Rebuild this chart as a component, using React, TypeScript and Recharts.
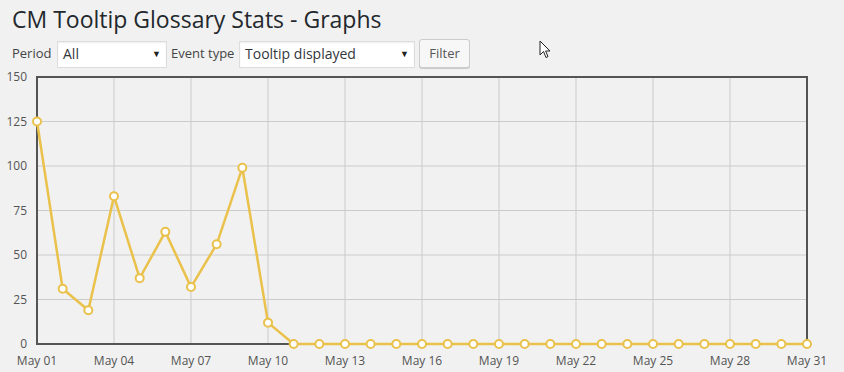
import { LineChart, Line, XAxis, YAxis, CartesianGrid, ReferenceArea } from "recharts";

const days = [
  "May 01", "May 02", "May 03", "May 04", "May 05", "May 06", "May 07", "May 08",
  "May 09", "May 10", "May 11", "May 12", "May 13", "May 14", "May 15", "May 16",
  "May 17", "May 18", "May 19", "May 20", "May 21", "May 22", "May 23", "May 24",
  "May 25", "May 26", "May 27", "May 28", "May 29", "May 30", "May 31",
];

const displayed = [
  125, 31, 19, 83, 37, 63, 32, 56, 99, 12, 0, 0, 0, 0, 0, 0,
  0, 0, 0, 0, 0, 0, 0, 0, 0, 0, 0, 0, 0, 0, 0,
];

const yTicks = [0, 25, 50, 75, 100, 125, 150];

const data = days.map((day, i) => ({ day, count: displayed[i] }));

const font = "'Open Sans', 'Noto Sans', sans-serif";
const gold = "#e9c14b";

const box = {
  position: "absolute" as const,
  background: "#fff",
  border: "1px solid #ddd",
  boxShadow: "inset 0 1px 2px rgba(0,0,0,0.07)",
  fontSize: 14,
  color: "#32373c",
  boxSizing: "border-box" as const,
  lineHeight: "24px",
  paddingLeft: 5,
};

export default function App() {
  return (
    <div
      style={{
        position: "absolute",
        left: 0,
        top: 0,
        width: 844,
        height: 372,
        background: "#f1f1f1",
        fontFamily: font,
        overflow: "hidden",
      }}
    >
      <div style={{ position: "absolute", left: 12, top: 3, fontSize: 23, color: "#23282d" }}>
        CM Tooltip Glossary Stats - Graphs
      </div>

      <div style={{ position: "absolute", left: 12, top: 44, fontSize: 13, color: "#444" }}>Period</div>
      <div style={{ ...box, left: 57, top: 41, width: 110, height: 27 }}>
        All
        <span style={{ position: "absolute", right: 5, top: 0, fontSize: 9, color: "#222" }}>▼</span>
      </div>

      <div style={{ position: "absolute", left: 171, top: 44, fontSize: 13, color: "#444" }}>Event type</div>
      <div style={{ ...box, left: 239, top: 41, width: 176, height: 27 }}>
        Tooltip displayed
        <span style={{ position: "absolute", right: 5, top: 0, fontSize: 9, color: "#222" }}>▼</span>
      </div>

      <div
        style={{
          position: "absolute",
          left: 419,
          top: 39,
          width: 51,
          height: 29,
          boxSizing: "border-box",
          background: "#f7f7f7",
          border: "1px solid #ccc",
          borderRadius: 3,
          boxShadow: "0 1px 0 #ccc",
          fontSize: 13,
          color: "#555",
          textAlign: "center",
          lineHeight: "26px",
        }}
      >
        Filter
      </div>

      {/* mouse pointer seen in the screenshot */}
      <svg style={{ position: "absolute", left: 539, top: 40 }} width={14} height={20}>
        <path d="M1 1 L1 15 L4.5 11.5 L7 17.5 L9 16.6 L6.6 11 L11 11 Z" fill="#fff" stroke="#222" strokeWidth={1} />
      </svg>

      <div style={{ position: "absolute", left: 0, top: 0 }}>
        <LineChart width={844} height={372} data={data} margin={{ top: 77, right: 37, bottom: 0, left: 0 }}>
          <CartesianGrid stroke="#cbcbcb" strokeWidth={1} />
          <XAxis
            dataKey="day"
            interval={2}
            height={28}
            axisLine={false}
            tickLine={false}
            tick={{ fill: "#545454", fontSize: 12, fontFamily: font }}
            tickMargin={6}
          />
          <YAxis
            width={37}
            domain={[0, 150]}
            ticks={yTicks}
            axisLine={false}
            tickLine={false}
            tick={{ fill: "#545454", fontSize: 12, fontFamily: font }}
            tickMargin={4}
          />
          <ReferenceArea
            x1="May 01"
            x2="May 31"
            y1={0}
            y2={150}
            fill="none"
            stroke="#545454"
            strokeWidth={2}
            ifOverflow="visible"
          />
          <Line
            type="linear"
            dataKey="count"
            stroke={gold}
            strokeWidth={2.5}
            dot={{ r: 4, fill: "#fff", stroke: gold, strokeWidth: 2, fillOpacity: 1 }}
            isAnimationActive={false}
          />
        </LineChart>
      </div>
    </div>
  );
}
